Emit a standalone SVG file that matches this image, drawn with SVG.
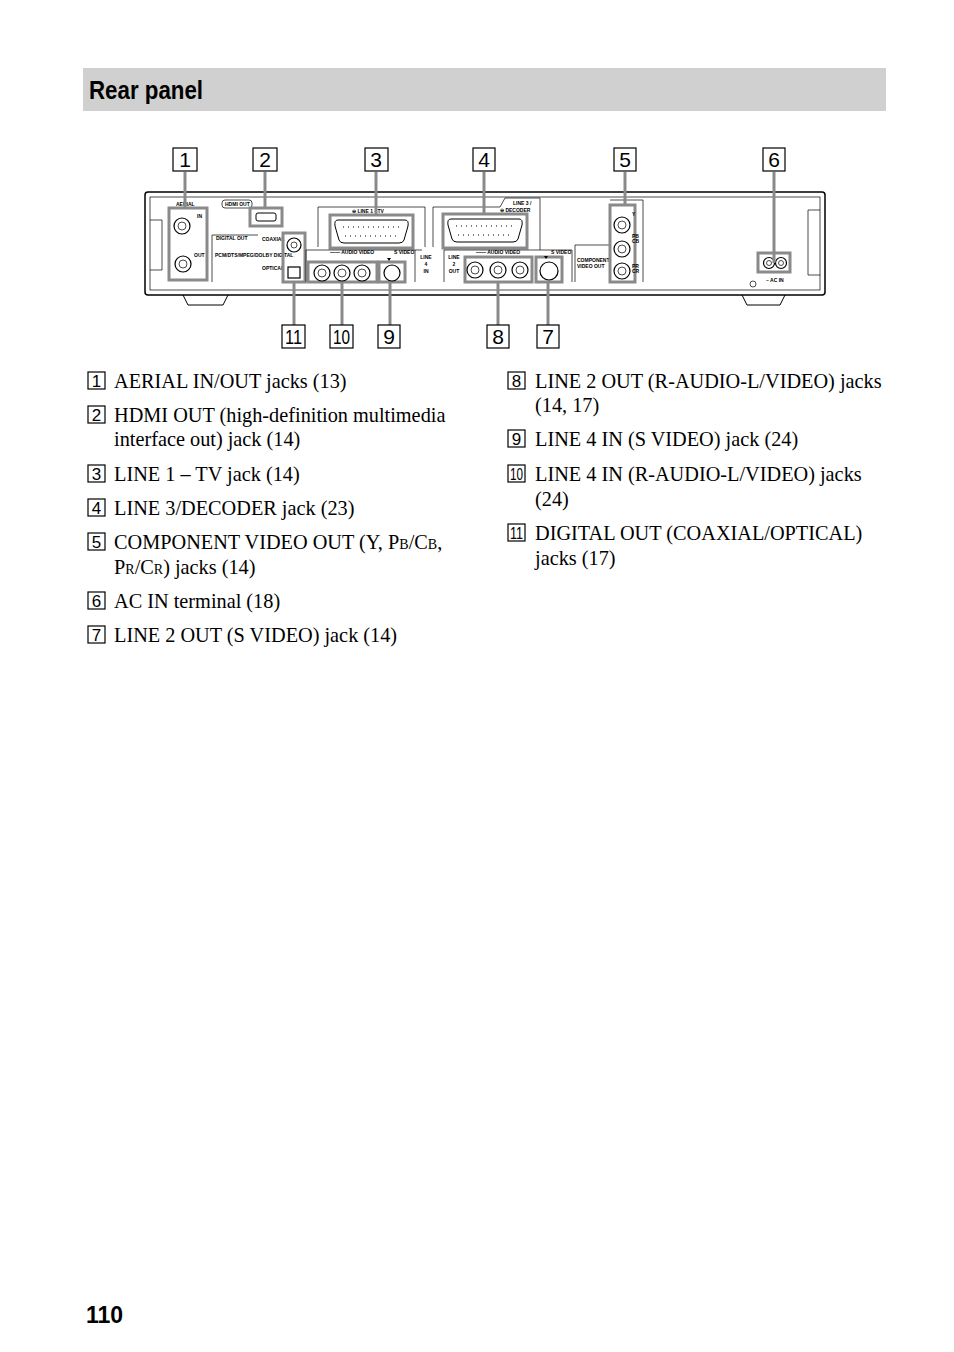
<svg xmlns="http://www.w3.org/2000/svg" width="954" height="1352" viewBox="0 0 954 1352">
<style>
.t{font-family:"Liberation Serif",serif;font-size:20.3px;fill:#000}
.n{font-family:"Liberation Sans",sans-serif;font-size:17px;fill:#000}
.cb{fill:#fff;stroke:#000;stroke-width:1.2}
.lb{font-family:"Liberation Sans",sans-serif;font-size:21px;fill:#000}
.hl{fill:none;stroke:#8a8a8a;stroke-width:3}
.ld{stroke:#8a8a8a;stroke-width:3}
.ln{fill:none;stroke:#000;stroke-width:1}
.thin{fill:none;stroke:#000;stroke-width:0.7}
.s{font-family:"Liberation Sans Narrow","Liberation Sans",sans-serif;font-size:5px;font-weight:bold;fill:#000}
.j{fill:#fff;stroke:#000;stroke-width:1.2}
</style>
<rect x="83" y="68" width="803" height="43" fill="#d0d0d0"/>
<text x="89" y="99" font-family="Liberation Sans,sans-serif" font-weight="bold" font-size="25" fill="#000" textLength="114" lengthAdjust="spacingAndGlyphs">Rear panel</text>

<g id="device">
<path d="M183 295 L188 305 L223 305 L228 295" class="ln"/>
<path d="M742 295 L747 305 L780 305 L785 295" class="ln"/>
<rect x="145" y="192" width="680" height="103" rx="3" fill="#fff" stroke="#000" stroke-width="1.5"/>
<rect x="150" y="197" width="670" height="93" class="thin"/>
<path d="M150 220 L162 220 L162 270 L150 270" class="thin"/>
<path d="M820 210 L808 210 L808 275 L820 275" class="thin"/>
</g>

<g id="aerial">
<rect x="169" y="208" width="38" height="72" class="hl"/>
<text x="176" y="206" class="s">AERIAL</text>
<text x="197" y="218" class="s">IN</text>
<text x="194" y="257" class="s">OUT</text>
<circle cx="182" cy="226" r="8" class="j"/><circle cx="182" cy="226" r="4" class="thin"/>
<circle cx="183" cy="264" r="8" class="j"/><circle cx="183" cy="264" r="4" class="thin"/>
</g>
<g id="hdmi">
<rect x="222" y="200" width="30" height="8" rx="3" class="thin"/>
<text x="225" y="206" class="s">HDMI OUT</text>
<rect x="250" y="208" width="32" height="18" class="hl"/>
<rect x="256" y="213" width="20" height="8" rx="2" class="ln"/>
</g>
<g id="digital">
<path d="M212 282 L212 235 L258 235" class="thin"/>
<text x="216" y="240" class="s">DIGITAL OUT</text>
<text x="262" y="241" class="s">COAXIAL</text>
<text x="215" y="257" class="s" font-size="4">PCM/DTS/MPEG/DOLBY DIGITAL</text>
<text x="262" y="270" class="s">OPTICAL</text>
<rect x="283" y="233" width="22" height="49" class="hl"/>
<circle cx="294" cy="245" r="7" class="j"/><circle cx="294" cy="245" r="3" class="thin"/>
<rect x="288" y="267" width="12" height="11" class="j"/>
</g>
<g id="line1">
<path d="M318 247 L318 207 L425 207 L425 247" class="thin"/>
<text x="352" y="213" class="s">⊖ LINE 1 - TV</text>
<rect x="330" y="215" width="83" height="33" class="hl"/>
<path d="M338 220 L405 220 Q409 220 408 226 L404 240 Q403 243 399 243 L344 243 Q340 243 339 240 L335 226 Q334 220 338 220 Z" class="ln"/>
<line x1="343" y1="227" x2="402" y2="227" stroke="#000" stroke-width="1.2" stroke-dasharray="1 4"/>
<line x1="345" y1="236" x2="400" y2="236" stroke="#000" stroke-width="1.2" stroke-dasharray="1 4"/>
<path d="M306 282 L306 250 L422 250" class="thin"/>
<text x="330" y="254" class="s">—— AUDIO   VIDEO</text>
<text x="394" y="254" class="s">S VIDEO</text>
<rect x="308" y="262" width="69" height="20" class="hl"/>
<circle cx="322" cy="273" r="8" class="j"/><circle cx="322" cy="273" r="4" class="thin"/>
<circle cx="342" cy="273" r="8" class="j"/><circle cx="342" cy="273" r="4" class="thin"/>
<circle cx="362" cy="273" r="8" class="j"/><circle cx="362" cy="273" r="4" class="thin"/>
<rect x="379" y="262" width="26" height="20" class="hl"/>
<circle cx="392" cy="273" r="8" class="j"/>
<path d="M387 258 L391 258 L389 261 Z" fill="#000"/>
<line x1="415" y1="250" x2="415" y2="282" class="thin"/>
<text x="426" y="259" class="s" text-anchor="middle">LINE</text>
<text x="426" y="266" class="s" text-anchor="middle">4</text>
<text x="426" y="273" class="s" text-anchor="middle">IN</text>
</g>
<g id="line3">
<path d="M433 247 L433 207 L500 207 L505 198 L540 198 L540 250" class="thin"/>
<text x="513" y="205" class="s">LINE 3 /</text>
<text x="500" y="212" class="s">⊖ DECODER</text>
<rect x="443" y="214" width="84" height="34" class="hl"/>
<path d="M451 219 L519 219 Q523 219 522 225 L518 239 Q517 242 513 242 L457 242 Q453 242 452 239 L448 225 Q447 219 451 219 Z" class="ln"/>
<line x1="456" y1="226" x2="515" y2="226" stroke="#000" stroke-width="1.2" stroke-dasharray="1 4"/>
<line x1="458" y1="235" x2="513" y2="235" stroke="#000" stroke-width="1.2" stroke-dasharray="1 4"/>
<path d="M444 282 L444 250 L572 250 L572 282" class="thin"/>
<text x="454" y="259" class="s" text-anchor="middle">LINE</text>
<text x="454" y="266" class="s" text-anchor="middle">2</text>
<text x="454" y="273" class="s" text-anchor="middle">OUT</text>
<text x="476" y="254" class="s">—— AUDIO   VIDEO</text>
<text x="551" y="254" class="s">S VIDEO</text>
<rect x="465" y="257" width="67" height="25" class="hl"/>
<circle cx="475" cy="270" r="8" class="j"/><circle cx="475" cy="270" r="4" class="thin"/>
<circle cx="498" cy="270" r="8" class="j"/><circle cx="498" cy="270" r="4" class="thin"/>
<circle cx="520" cy="270" r="8" class="j"/><circle cx="520" cy="270" r="4" class="thin"/>
<rect x="536" y="257" width="26" height="25" class="hl"/>
<circle cx="549" cy="271" r="9" class="j"/>
<path d="M544 256 L548 256 L546 259 Z" fill="#000"/>
</g>
<g id="component">
<path d="M575 282 L575 245 L610 245 M610 200 L643 200 L643 282" class="thin"/>
<text x="577" y="262" class="s">COMPONENT</text>
<text x="577" y="268" class="s">VIDEO OUT</text>
<rect x="610" y="205" width="25" height="77" class="hl"/>
<circle cx="622" cy="225" r="8" class="j"/><circle cx="622" cy="225" r="4" class="thin"/>
<circle cx="622" cy="249" r="8" class="j"/><circle cx="622" cy="249" r="4" class="thin"/>
<circle cx="622" cy="271" r="8" class="j"/><circle cx="622" cy="271" r="4" class="thin"/>
<text x="632" y="216" class="s">Y</text>
<text x="632" y="238" class="s">PB</text><text x="632" y="243" class="s">CB</text>
<text x="632" y="268" class="s">PR</text><text x="632" y="273" class="s">CR</text>
</g>
<g id="acin">
<rect x="758" y="253" width="32" height="19" class="hl"/>
<circle cx="769" cy="263" r="5.5" class="j"/><circle cx="769" cy="263" r="2.5" class="thin"/>
<circle cx="781" cy="263" r="5.5" class="j"/><circle cx="781" cy="263" r="2.5" class="thin"/>
<text x="766" y="282" class="s">~ AC IN</text>
<circle cx="753" cy="284" r="3" class="thin"/>
</g>

<g id="connectors">
<line x1="185" y1="172" x2="185" y2="208" class="ld"/>
<line x1="265" y1="172" x2="265" y2="208" class="ld"/>
<line x1="376" y1="172" x2="376" y2="215" class="ld"/>
<line x1="484" y1="172" x2="484" y2="214" class="ld"/>
<line x1="625" y1="172" x2="625" y2="205" class="ld"/>
<line x1="774" y1="172" x2="774" y2="263" class="ld"/>
<line x1="294" y1="282" x2="294" y2="325" class="ld"/>
<line x1="342" y1="282" x2="342" y2="325" class="ld"/>
<line x1="390" y1="282" x2="390" y2="325" class="ld"/>
<line x1="498" y1="282" x2="498" y2="325" class="ld"/>
<line x1="548" y1="282" x2="548" y2="325" class="ld"/>
</g>

<g id="callouts">
<rect x="173" y="148" width="24" height="23" class="cb"/><text x="185" y="167" class="lb" text-anchor="middle">1</text>
<rect x="253" y="148" width="24" height="23" class="cb"/><text x="265" y="167" class="lb" text-anchor="middle">2</text>
<rect x="365" y="148" width="23" height="23" class="cb"/><text x="376" y="167" class="lb" text-anchor="middle">3</text>
<rect x="473" y="148" width="22" height="23" class="cb"/><text x="484" y="167" class="lb" text-anchor="middle">4</text>
<rect x="614" y="148" width="22" height="23" class="cb"/><text x="625" y="167" class="lb" text-anchor="middle">5</text>
<rect x="763" y="148" width="22" height="23" class="cb"/><text x="774" y="167" class="lb" text-anchor="middle">6</text>
<rect x="282" y="325" width="23" height="23" class="cb"/><text x="285" y="344" class="lb" textLength="17" lengthAdjust="spacingAndGlyphs">11</text>
<rect x="330" y="325" width="23" height="23" class="cb"/><text x="333" y="344" class="lb" textLength="17" lengthAdjust="spacingAndGlyphs">10</text>
<rect x="378" y="325" width="22" height="23" class="cb"/><text x="389" y="344" class="lb" text-anchor="middle">9</text>
<rect x="487" y="325" width="22" height="23" class="cb"/><text x="498" y="344" class="lb" text-anchor="middle">8</text>
<rect x="537" y="325" width="22" height="23" class="cb"/><text x="548" y="344" class="lb" text-anchor="middle">7</text>
</g>

<g id="list">
<rect x="88" y="372" width="17" height="17" class="cb"/><text x="96.5" y="387" class="n" text-anchor="middle">1</text>
<text x="114" y="388" class="t">AERIAL IN/OUT jacks (13)</text>
<rect x="88" y="406" width="17" height="17" class="cb"/><text x="96.5" y="421" class="n" text-anchor="middle">2</text>
<text x="114" y="422" class="t">HDMI OUT (high-definition multimedia</text>
<text x="114" y="446" class="t">interface out) jack (14)</text>
<rect x="88" y="465" width="17" height="17" class="cb"/><text x="96.5" y="480" class="n" text-anchor="middle">3</text>
<text x="114" y="481" class="t">LINE 1 – TV jack (14)</text>
<rect x="88" y="499" width="17" height="17" class="cb"/><text x="96.5" y="514" class="n" text-anchor="middle">4</text>
<text x="114" y="515" class="t">LINE 3/DECODER jack (23)</text>
<rect x="88" y="533" width="17" height="17" class="cb"/><text x="96.5" y="548" class="n" text-anchor="middle">5</text>
<text x="114" y="549" class="t">COMPONENT VIDEO OUT (Y, P<tspan font-size="14">B</tspan>/C<tspan font-size="14">B</tspan>,</text>
<text x="114" y="574" class="t">P<tspan font-size="14">R</tspan>/C<tspan font-size="14">R</tspan>) jacks (14)</text>
<rect x="88" y="592" width="17" height="17" class="cb"/><text x="96.5" y="607" class="n" text-anchor="middle">6</text>
<text x="114" y="608" class="t">AC IN terminal (18)</text>
<rect x="88" y="626" width="17" height="17" class="cb"/><text x="96.5" y="641" class="n" text-anchor="middle">7</text>
<text x="114" y="642" class="t">LINE 2 OUT (S VIDEO) jack (14)</text>

<rect x="508" y="372" width="17" height="17" class="cb"/><text x="516.5" y="387" class="n" text-anchor="middle">8</text>
<text x="535" y="388" class="t">LINE 2 OUT (R-AUDIO-L/VIDEO) jacks</text>
<text x="535" y="412" class="t">(14, 17)</text>
<rect x="508" y="430" width="17" height="17" class="cb"/><text x="516.5" y="445" class="n" text-anchor="middle">9</text>
<text x="535" y="446" class="t">LINE 4 IN (S VIDEO) jack (24)</text>
<rect x="508" y="465" width="17" height="17" class="cb"/><text x="510" y="480" class="n" textLength="13" lengthAdjust="spacingAndGlyphs">10</text>
<text x="535" y="481" class="t">LINE 4 IN (R-AUDIO-L/VIDEO) jacks</text>
<text x="535" y="506" class="t">(24)</text>
<rect x="508" y="524" width="17" height="17" class="cb"/><text x="510" y="539" class="n" textLength="13" lengthAdjust="spacingAndGlyphs">11</text>
<text x="535" y="540" class="t">DIGITAL OUT (COAXIAL/OPTICAL)</text>
<text x="535" y="565" class="t">jacks (17)</text>
</g>
<text x="86" y="1323" font-family="Liberation Sans,sans-serif" font-weight="bold" font-size="23" fill="#000">110</text>
</svg>
